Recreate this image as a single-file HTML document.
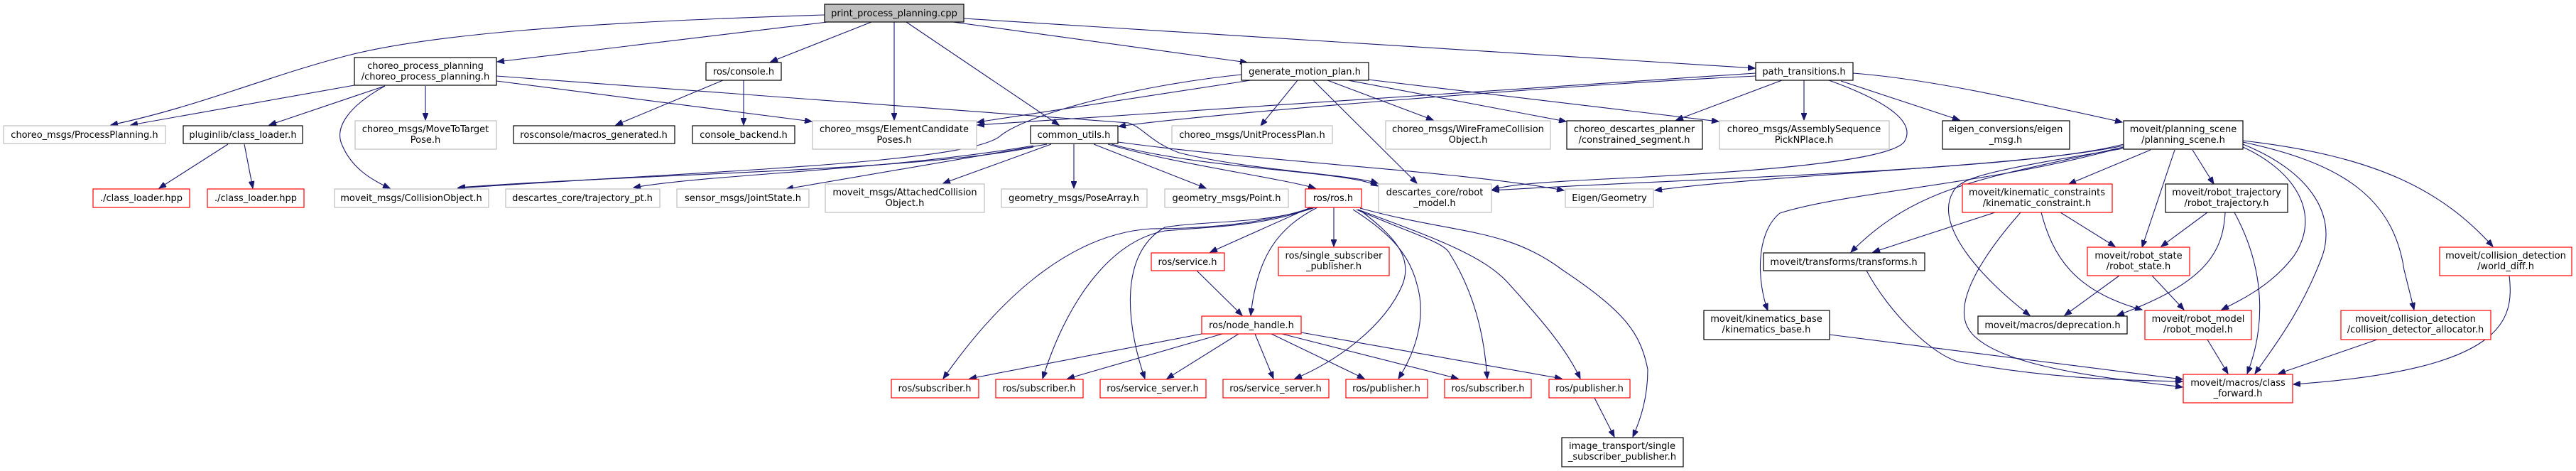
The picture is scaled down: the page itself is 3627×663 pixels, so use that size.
<!DOCTYPE html>
<html><head><meta charset="utf-8"><style>
html,body{margin:0;padding:0;background:#fff;}
svg{display:block;}
text{font-family:"DejaVu Sans","Liberation Sans",sans-serif;font-size:13px;fill:#000;text-anchor:middle;}
.e{fill:none;stroke:#191970;stroke-width:1.1;marker-end:url(#a);}
.k{fill:#fff;stroke:#000;stroke-width:1.2;}
.g{fill:#fff;stroke:#bfbfbf;stroke-width:1.2;}
.r{fill:#fff;stroke:#ff0000;stroke-width:1.2;}
</style></head><body>
<svg width="3627" height="663" viewBox="0 0 3627 663" xmlns="http://www.w3.org/2000/svg">
<defs><marker id="a" markerUnits="userSpaceOnUse" markerWidth="11" markerHeight="8" refX="10" refY="4" orient="auto"><path d="M0,0 L10,4 L0,8 z" fill="#191970" stroke="#191970"/></marker></defs>
<g>
<!-- root edges -->
<path class="e" d="M1165,31 L700,87"/>
<path class="e" d="M1161,21 C800,32 600,50 490,78 C380,106 280,150 156,176"/>
<path class="e" d="M1227,31 L1085,87"/>
<path class="e" d="M1259,31 L1259,169"/>
<path class="e" d="M1276,31 L1491,176"/>
<path class="e" d="M1342,31 L1756,88"/>
<path class="e" d="M1357,26 L2471,96"/>
<!-- choreo_process_planning -->
<path class="e" d="M499,120 L184,176"/>
<path class="e" d="M542,121 L379,176"/>
<path class="e" d="M542,121 C490,150 470,180 482,205 C495,235 520,252 549,265"/>
<path class="e" d="M599,121 L599,169"/>
<path class="e" d="M699,114 L1143,171"/>
<path class="e" d="M699,107 L1589,173 C1610,180 1620,200 1660,215 C1760,240 1900,245 1940,258"/>
<!-- pluginlib, console -->
<path class="e" d="M321,203 L224,265"/>
<path class="e" d="M344,203 L356,265"/>
<path class="e" d="M1018,113 L867,176"/>
<path class="e" d="M1047,113 L1047,176"/>
<!-- common_utils -->
<path class="e" d="M1455,207 C1300,240 900,245 645,264"/>
<path class="e" d="M1455,205 C1250,240 1000,245 892,264"/>
<path class="e" d="M1474,203 L1107,266"/>
<path class="e" d="M1480,203 L1328,258"/>
<path class="e" d="M1512,203 L1512,265"/>
<path class="e" d="M1540,203 L1698,265"/>
<path class="e" d="M1560,203 C1650,230 1800,250 1852,265"/>
<path class="e" d="M1565,203 C1700,240 1900,240 1940,262"/>
<path class="e" d="M1574,200 C1800,230 2050,240 2202,268"/>
<!-- generate_motion_plan -->
<path class="e" d="M1748,105 C1600,120 1450,160 1410,190 C1370,230 1000,240 645,265"/>
<path class="e" d="M1761,113 L1376,172"/>
<path class="e" d="M1827,113 L1775,177"/>
<path class="e" d="M1869,113 L2018,169"/>
<path class="e" d="M1898,113 L2205,171"/>
<path class="e" d="M1926,112 L2420,171"/>
<path class="e" d="M1849,113 L1995,258"/>
<!-- path_transitions -->
<path class="e" d="M2472,103 L1376,176"/>
<path class="e" d="M2472,107 C2200,120 1700,160 1575,178"/>
<path class="e" d="M2509,113 L2360,169"/>
<path class="e" d="M2540,113 L2540,169"/>
<path class="e" d="M2575,113 C2650,140 2700,170 2681,200 C2660,225 2500,240 2300,250 C2200,255 2130,258 2101,267"/>
<path class="e" d="M2592,114 L2759,169"/>
<path class="e" d="M2609,103 C2700,110 2800,130 2988,172"/>
<!-- planning_scene -->
<path class="e" d="M2990,205 C2850,235 2500,245 2330,268"/>
<path class="e" d="M2990,203 C2850,240 2400,250 2101,268"/>
<path class="e" d="M2990,207 C2800,250 2700,260 2606,355"/>
<path class="e" d="M2990,207 C2800,260 2600,270 2506,300 C2470,330 2475,400 2489,437"/>
<path class="e" d="M3028,211 L2913,259"/>
<path class="e" d="M3062,211 L3016,348"/>
<path class="e" d="M3087,211 L3117,259"/>
<path class="e" d="M2990,209 C2800,240 2760,250 2750,270 C2720,320 2800,400 2858,444"/>
<path class="e" d="M3158,207 C3230,240 3270,300 3230,360 C3200,400 3160,420 3128,436"/>
<path class="e" d="M3158,203 C3250,240 3290,300 3270,360 C3240,440 3200,490 3175,526"/>
<path class="e" d="M3158,200 C3300,230 3370,280 3385,380 L3399,436"/>
<path class="e" d="M3158,198 C3350,220 3440,270 3510,347"/>
<!-- kinematic_constraint -->
<path class="e" d="M2809,299 L2637,355"/>
<path class="e" d="M2901,299 L2978,347"/>
<path class="e" d="M2874,299 C2890,360 2920,410 3016,436"/>
<path class="e" d="M2845,299 C2800,350 2750,420 2770,460 C2800,520 3000,535 3073,545"/>
<!-- robot_trajectory -->
<path class="e" d="M3108,299 L3043,347"/>
<path class="e" d="M3133,299 C3130,360 3100,400 2981,444"/>
<path class="e" d="M3146,299 C3190,380 3190,460 3164,526"/>
<!-- robot_state, model, etc -->
<path class="e" d="M2984,388 L2907,444"/>
<path class="e" d="M3030,388 L3075,436"/>
<path class="e" d="M3108,478 L3137,526"/>
<path class="e" d="M3347,478 L3208,526"/>
<path class="e" d="M3533,388 C3540,450 3530,520 3229,541"/>
<path class="e" d="M2628,381 C2660,440 2720,500 2760,510 C2900,535 3000,535 3073,537"/>
<path class="e" d="M2576,471 L3073,534"/>
<!-- ros.h -->
<path class="e" d="M1845,292 L1704,355"/>
<path class="e" d="M1878,292 L1878,347"/>
<path class="e" d="M1855,292 C1800,320 1770,360 1761,444"/>
<path class="e" d="M1848,292 C1780,315 1700,322 1620,322 C1500,330 1400,430 1328,533"/>
<path class="e" d="M1850,292 C1780,318 1720,318 1640,325 C1560,340 1500,430 1468,533"/>
<path class="e" d="M1852,292 C1780,316 1700,310 1640,320 C1570,360 1590,470 1612,533"/>
<path class="e" d="M1915,296 C1960,330 1990,360 1975,400 C1950,460 1880,510 1823,533"/>
<path class="e" d="M1905,295 C1960,330 1985,360 1995,400 C2010,450 1990,500 1969,533"/>
<path class="e" d="M1910,295 C1990,330 2030,340 2040,355 C2075,410 2090,470 2094,533"/>
<path class="e" d="M1912,295 C2020,335 2090,360 2125,400 C2170,450 2205,490 2225,533"/>
<path class="e" d="M1915,293 C2050,330 2120,320 2200,380 C2290,440 2310,470 2320,520 C2320,560 2310,590 2299,615"/>
<!-- service, node_handle -->
<path class="e" d="M1685,381 L1749,444"/>
<path class="e" d="M1692,470 L1365,533"/>
<path class="e" d="M1721,470 L1503,533"/>
<path class="e" d="M1744,470 L1643,533"/>
<path class="e" d="M1767,470 L1793,533"/>
<path class="e" d="M1790,470 L1921,533"/>
<path class="e" d="M1805,470 L2053,533"/>
<path class="e" d="M1832,468 L2199,533"/>
<path class="e" d="M2245,560 L2273,615"/>
</g>
<g>
<rect x="1161" y="6" width="196" height="25" fill="#bfbfbf" stroke="#000" stroke-width="1.2"/><text x="1259" y="23">print_process_planning.cpp</text>
<rect class="k" x="499" y="81" width="200" height="39"/><text x="599" y="97">choreo_process_planning</text><text x="599" y="112">/choreo_process_planning.h</text>
<rect class="k" x="994" y="88" width="106" height="25"/><text x="1047" y="105">ros/console.h</text>
<rect class="k" x="1748" y="88" width="179" height="25"/><text x="1837" y="105">generate_motion_plan.h</text>
<rect class="k" x="2472" y="88" width="137" height="25"/><text x="2540" y="105">path_transitions.h</text>
<rect class="g" x="5" y="177" width="228" height="25"/><text x="119" y="194">choreo_msgs/ProcessPlanning.h</text>
<rect class="k" x="258" y="177" width="168" height="25"/><text x="342" y="194">pluginlib/class_loader.h</text>
<rect class="g" x="500" y="170" width="199" height="40"/><text x="599" y="186">choreo_msgs/MoveToTarget</text><text x="599" y="201">Pose.h</text>
<rect class="k" x="723" y="177" width="227" height="25"/><text x="836" y="194">rosconsole/macros_generated.h</text>
<rect class="k" x="975" y="177" width="144" height="25"/><text x="1047" y="194">console_backend.h</text>
<rect class="g" x="1144" y="170" width="231" height="40"/><text x="1259" y="186">choreo_msgs/ElementCandidate</text><text x="1259" y="201">Poses.h</text>
<rect class="k" x="1451" y="177" width="123" height="25"/><text x="1512" y="194">common_utils.h</text>
<rect class="g" x="1650" y="177" width="226" height="25"/><text x="1763" y="194">choreo_msgs/UnitProcessPlan.h</text>
<rect class="g" x="1951" y="170" width="232" height="40"/><text x="2067" y="186">choreo_msgs/WireFrameCollision</text><text x="2067" y="201">Object.h</text>
<rect class="k" x="2206" y="170" width="191" height="40"/><text x="2301" y="186">choreo_descartes_planner</text><text x="2301" y="201">/constrained_segment.h</text>
<rect class="g" x="2421" y="170" width="239" height="40"/><text x="2540" y="186">choreo_msgs/AssemblySequence</text><text x="2540" y="201">PickNPlace.h</text>
<rect class="k" x="2735" y="170" width="179" height="40"/><text x="2824" y="186">eigen_conversions/eigen</text><text x="2824" y="201">_msg.h</text>
<rect class="k" x="2990" y="170" width="168" height="40"/><text x="3074" y="186">moveit/planning_scene</text><text x="3074" y="201">/planning_scene.h</text>
<rect class="r" x="131" y="266" width="136" height="26"/><text x="199" y="283">./class_loader.hpp</text>
<rect class="r" x="292" y="266" width="136" height="26"/><text x="360" y="283">./class_loader.hpp</text>
<rect class="g" x="471" y="266" width="217" height="26"/><text x="579" y="283">moveit_msgs/CollisionObject.h</text>
<rect class="g" x="712" y="266" width="217" height="26"/><text x="820" y="283">descartes_core/trajectory_pt.h</text>
<rect class="g" x="953" y="266" width="186" height="26"/><text x="1046" y="283">sensor_msgs/JointState.h</text>
<rect class="g" x="1162" y="259" width="224" height="40"/><text x="1274" y="275">moveit_msgs/AttachedCollision</text><text x="1274" y="290">Object.h</text>
<rect class="g" x="1410" y="266" width="205" height="26"/><text x="1512" y="283">geometry_msgs/PoseArray.h</text>
<rect class="g" x="1640" y="266" width="174" height="26"/><text x="1727" y="283">geometry_msgs/Point.h</text>
<rect class="r" x="1838" y="266" width="79" height="26"/><text x="1877" y="283">ros/ros.h</text>
<rect class="g" x="1941" y="259" width="159" height="40"/><text x="2020" y="275">descartes_core/robot</text><text x="2020" y="290">_model.h</text>
<rect class="g" x="2204" y="266" width="124" height="26"/><text x="2266" y="283">Eigen/Geometry</text>
<rect class="r" x="2763" y="259" width="211" height="40"/><text x="2868" y="275">moveit/kinematic_constraints</text><text x="2868" y="290">/kinematic_constraint.h</text>
<rect class="k" x="3049" y="259" width="172" height="40"/><text x="3135" y="275">moveit/robot_trajectory</text><text x="3135" y="290">/robot_trajectory.h</text>
<rect class="r" x="1621" y="356" width="103" height="25"/><text x="1672" y="373">ros/service.h</text>
<rect class="r" x="1800" y="348" width="156" height="40"/><text x="1878" y="364">ros/single_subscriber</text><text x="1878" y="379">_publisher.h</text>
<rect class="k" x="2483" y="356" width="227" height="25"/><text x="2596" y="373">moveit/transforms/transforms.h</text>
<rect class="r" x="2939" y="348" width="144" height="40"/><text x="3011" y="364">moveit/robot_state</text><text x="3011" y="379">/robot_state.h</text>
<rect class="r" x="3435" y="348" width="186" height="40"/><text x="3528" y="364">moveit/collision_detection</text><text x="3528" y="379">/world_diff.h</text>
<rect class="r" x="1692" y="445" width="140" height="25"/><text x="1762" y="462">ros/node_handle.h</text>
<rect class="k" x="2399" y="437" width="177" height="41"/><text x="2487" y="453">moveit/kinematics_base</text><text x="2487" y="468">/kinematics_base.h</text>
<rect class="k" x="2785" y="445" width="210" height="25"/><text x="2890" y="462">moveit/macros/deprecation.h</text>
<rect class="r" x="3020" y="437" width="150" height="41"/><text x="3095" y="453">moveit/robot_model</text><text x="3095" y="468">/robot_model.h</text>
<rect class="r" x="3296" y="437" width="211" height="41"/><text x="3401" y="453">moveit/collision_detection</text><text x="3401" y="468">/collision_detector_allocator.h</text>
<rect class="r" x="1255" y="534" width="123" height="26"/><text x="1316" y="551">ros/subscriber.h</text>
<rect class="r" x="1402" y="534" width="123" height="26"/><text x="1463" y="551">ros/subscriber.h</text>
<rect class="r" x="1549" y="534" width="149" height="26"/><text x="1623" y="551">ros/service_server.h</text>
<rect class="r" x="1722" y="534" width="149" height="26"/><text x="1796" y="551">ros/service_server.h</text>
<rect class="r" x="1895" y="534" width="115" height="26"/><text x="1952" y="551">ros/publisher.h</text>
<rect class="r" x="2034" y="534" width="122" height="26"/><text x="2095" y="551">ros/subscriber.h</text>
<rect class="r" x="2181" y="534" width="114" height="26"/><text x="2238" y="551">ros/publisher.h</text>
<rect class="r" x="3074" y="527" width="154" height="40"/><text x="3151" y="543">moveit/macros/class</text><text x="3151" y="558">_forward.h</text>
<rect class="k" x="2199" y="616" width="171" height="41"/><text x="2284" y="632">image_transport/single</text><text x="2284" y="647">_subscriber_publisher.h</text>
</g>
</svg>
</body></html>
